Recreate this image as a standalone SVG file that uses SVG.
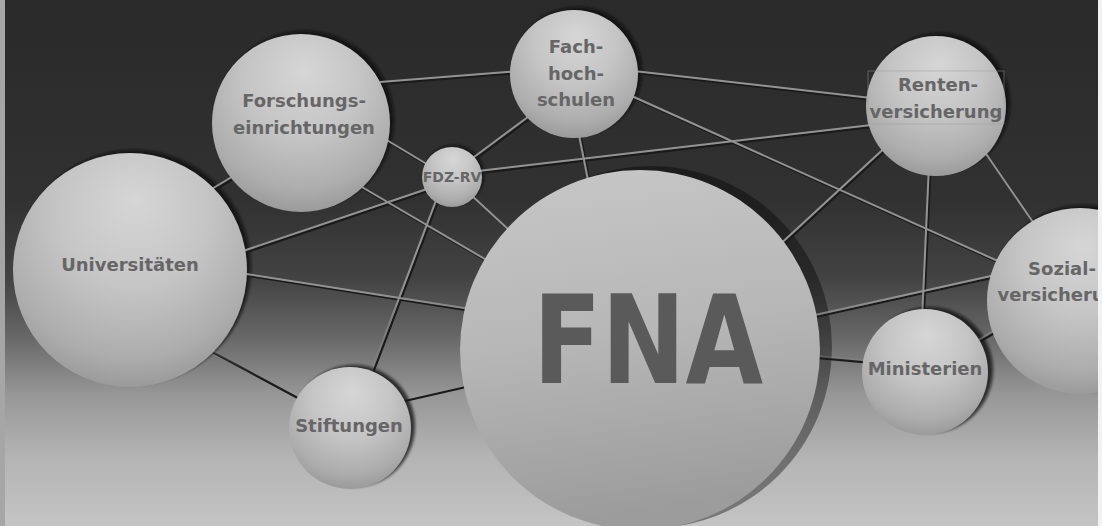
<svg xmlns="http://www.w3.org/2000/svg" xmlns:xlink="http://www.w3.org/1999/xlink" width="1102" height="526" viewBox="0 0 1102 526">
  <defs>
    <style>
      .lbl { font-family: "DejaVu Sans", "Liberation Sans", sans-serif; font-weight: bold; font-size: 18px; fill: #666666; text-anchor: middle; }
      .small { font-size: 14px; }
      .big { font-family: "DejaVu Sans", "Liberation Sans", sans-serif; font-weight: bold; font-size: 123px; fill: #5a5a5a; text-anchor: middle; }
      .sphere { fill: url(#sph); }
      .shadow { fill: #0d0d0d; opacity: 0.75; filter: url(#blur); }
      .link-shadow { stroke: #1a1a1a; stroke-width: 2.2; fill: none; }
      .link-light { stroke: url(#lineG); stroke-width: 2; fill: none; }
    </style>
    <linearGradient id="bg" x1="0" y1="0" x2="0" y2="526" gradientUnits="userSpaceOnUse">
      <stop offset="0" stop-color="#2a2a2a"/>
      <stop offset="0.38" stop-color="#313131"/>
      <stop offset="0.53" stop-color="#434343"/>
      <stop offset="0.64" stop-color="#676767"/>
      <stop offset="0.75" stop-color="#979797"/>
      <stop offset="0.87" stop-color="#b4b4b4"/>
      <stop offset="1" stop-color="#c4c4c4"/>
    </linearGradient>
    <linearGradient id="lineG" x1="0" y1="0" x2="0" y2="526" gradientUnits="userSpaceOnUse">
      <stop offset="0" stop-color="#939393"/>
      <stop offset="0.56" stop-color="#939393" stop-opacity="1"/>
      <stop offset="0.72" stop-color="#939393" stop-opacity="0"/>
    </linearGradient>
    <radialGradient id="sph" cx="0.5" cy="0.32" r="0.72" fx="0.52" fy="0.2">
      <stop offset="0" stop-color="#d6d6d6"/>
      <stop offset="0.45" stop-color="#c5c5c5"/>
      <stop offset="0.8" stop-color="#adadad"/>
      <stop offset="1" stop-color="#959595"/>
    </radialGradient>
    <linearGradient id="fnaG" x1="0" y1="0" x2="0.15" y2="1">
      <stop offset="0" stop-color="#c7c7c7"/>
      <stop offset="0.5" stop-color="#b7b7b7"/>
      <stop offset="1" stop-color="#9c9c9c"/>
    </linearGradient>
    <filter id="blur" x="-20%" y="-20%" width="140%" height="140%">
      <feGaussianBlur stdDeviation="1.8"/>
    </filter>
    <clipPath id="frame">
      <rect x="0" y="0" width="1098" height="526"/>
    </clipPath>
  </defs>

  <g clip-path="url(#frame)">
    <rect x="0" y="0" width="1102" height="526" fill="url(#bg)"/>

    <g id="shadows">
      <circle class="shadow" cx="305" cy="120" r="89"/>
      <circle class="shadow" cx="134" cy="267" r="117"/>
      <circle class="shadow" cx="578" cy="71" r="64"/>
      <circle class="shadow" cx="454" cy="175" r="30"/>
      <circle class="shadow" cx="940" cy="103" r="70"/>
      <circle class="shadow" cx="1084" cy="298" r="93"/>
      <circle class="shadow" cx="930" cy="370" r="63"/>
      <circle class="shadow" cx="354" cy="426" r="61"/>
      <circle cx="651" cy="347" r="181" fill="#000000" opacity="0.38"/>
    </g>

    <g id="connectors">
      <use href="#links" xlink:href="#links" class="link-shadow" transform="translate(1.6,1.8)"/>
      <g class="link-light">
        <g id="links">
          <line x1="380" y1="82" x2="520" y2="71"/>
          <line x1="380" y1="136" x2="430" y2="166"/>
          <line x1="355" y1="183" x2="495" y2="265"/>
          <line x1="240" y1="252" x2="430" y2="188"/>
          <line x1="205" y1="193" x2="240" y2="172"/>
          <line x1="240" y1="273" x2="470" y2="309"/>
          <line x1="205" y1="347" x2="305" y2="401"/>
          <line x1="440" y1="190" x2="368" y2="380"/>
          <line x1="400" y1="400" x2="470" y2="384"/>
          <line x1="470" y1="194" x2="520" y2="240"/>
          <line x1="470" y1="160" x2="540" y2="108"/>
          <line x1="470" y1="172" x2="880" y2="124"/>
          <line x1="625" y1="70" x2="880" y2="99"/>
          <line x1="625" y1="93" x2="1000" y2="262"/>
          <line x1="578" y1="130" x2="590" y2="190"/>
          <line x1="890" y1="143" x2="775" y2="249"/>
          <line x1="929" y1="165" x2="922" y2="320"/>
          <line x1="980" y1="145" x2="1035" y2="225"/>
          <line x1="815" y1="315" x2="1000" y2="274"/>
          <line x1="815" y1="356" x2="870" y2="361"/>
          <line x1="975" y1="342" x2="1005" y2="324"/>
        </g>
      </g>
    </g>

    <g id="node-forschung">
      <circle class="sphere" cx="301" cy="123" r="89"/>
      <text class="lbl" x="304" y="107">Forschungs-</text>
      <text class="lbl" x="304" y="134">einrichtungen</text>
    </g>

    <g id="node-universitaeten">
      <circle class="sphere" cx="130" cy="270" r="117"/>
      <text class="lbl" x="130" y="271">Universitäten</text>
    </g>

    <g id="node-fachhochschulen">
      <circle class="sphere" cx="574" cy="74" r="64"/>
      <text class="lbl" x="576" y="53">Fach-</text>
      <text class="lbl" x="576" y="80">hoch-</text>
      <text class="lbl" x="576" y="106">schulen</text>
    </g>

    <g id="node-fdz-rv">
      <circle class="sphere" cx="452" cy="177" r="30"/>
      <text class="lbl small" x="452" y="182">FDZ-RV</text>
    </g>

    <g id="node-fna">
      <circle cx="640" cy="350" r="180" fill="url(#fnaG)"/>
      <text class="big" x="648" y="383" textLength="230" lengthAdjust="spacingAndGlyphs">FNA</text>
    </g>

    <g id="node-rentenversicherung">
      <circle class="sphere" cx="936" cy="106" r="70"/>
      <rect x="868" y="71" width="136" height="53" fill="none" stroke="#9a9a9a" stroke-width="0.8" opacity="0.6"/>
      <text class="lbl" x="938" y="91">Renten-</text>
      <text class="lbl" x="936" y="118">versicherung</text>
    </g>

    <g id="node-sozialversicherung">
      <circle class="sphere" cx="1080" cy="301" r="93"/>
      <text class="lbl" x="1062" y="275">Sozial-</text>
      <text class="lbl" x="1064" y="301">versicherung</text>
    </g>

    <g id="node-ministerien">
      <circle class="sphere" cx="925" cy="372" r="63"/>
      <text class="lbl" x="925" y="375">Ministerien</text>
    </g>

    <g id="node-stiftungen">
      <circle class="sphere" cx="350" cy="428" r="61"/>
      <text class="lbl" x="349" y="432">Stiftungen</text>
    </g>
  </g>

  <rect x="0" y="0" width="5" height="526" fill="#a6a6a6"/>
  <rect x="1098" y="0" width="4" height="526" fill="#f2f2f2"/>
</svg>
